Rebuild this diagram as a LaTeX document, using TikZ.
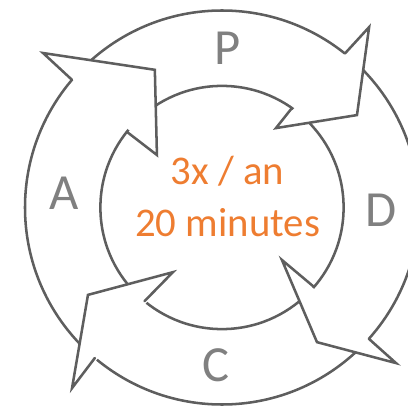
\documentclass[tikz,border=0pt]{standalone}
\usepackage{fontspec}
\setmainfont{Carlito}
\usepackage{xcolor}
\definecolor{ringgray}{HTML}{5E5E5E}
\definecolor{labelgray}{HTML}{808080}
\definecolor{cycleorange}{HTML}{EE7D31}
\tikzset{
  ring/.style={draw=ringgray, line width=1.8pt},
  head/.style={draw=ringgray, line width=1.8pt, line join=miter, line cap=round},
  phase/.style={font=\fontsize{36}{36}\selectfont, text=labelgray},
  note/.style={
    font=\fontsize{29}{37}\selectfont, text=cycleorange, align=center
  }
}

\begin{document}
\begin{tikzpicture}
        \useasboundingbox (-5.55,-5.0875) rectangle (4.65,5.1875);
        % Anneau
        \draw[ring] (0,0) circle (4.925);
        \draw[ring] (0,0) circle (3.04);
        % Fleche A (vers P)
        \fill[white] (139.2:5.91) -- (116:3.83) -- (141.1:2.09) -- cycle;
        \draw[head] (139.6:4.925) -- (139.2:5.91) -- (116:3.83)
          -- (141.1:2.09) -- (141.5:3.04);
        % Fleche P (vers D)
        \fill[white] (50.8:5.82) -- (34.4:4.09) -- (55.8:2.40) -- cycle;
        \draw[head] (51.4:4.925) -- (50.8:5.82) -- (34.4:4.09)
          -- (55.8:2.40) -- (54.9:3.04);
        % Fleche D (vers C)
        \fill[white] (-41.8:5.835) -- (-54.8:4.12) -- (-41.2:1.99) -- cycle;
        \draw[head] (-41.8:4.925) -- (-41.8:5.835) -- (-54.8:4.12)
          -- (-41.2:1.99) -- (-40.8:3.04);
        % Fleche C (vers A)
        \fill[white] (230.3:5.87) -- (213.1:4.0) -- (232.8:2.03) -- cycle;
        \draw[head] (229.8:4.925) -- (230.3:5.87) -- (213.1:4.0)
          -- (232.8:2.03) -- (230.4:3.04);
        % Etapes
        \node[phase] (plan) at (0.15,3.99) {P};
        \node[phase] (do) at (3.975,-0.06) {D};
        \node[phase] (check) at (-0.15,-3.94) {C};
        \node[phase] (act) at (-3.95,0.36) {A};
        % Frequence
        \node[note] (freq) at (0.14,0.27) {3x / an\\20 minutes};
      \end{tikzpicture}
\end{document}
